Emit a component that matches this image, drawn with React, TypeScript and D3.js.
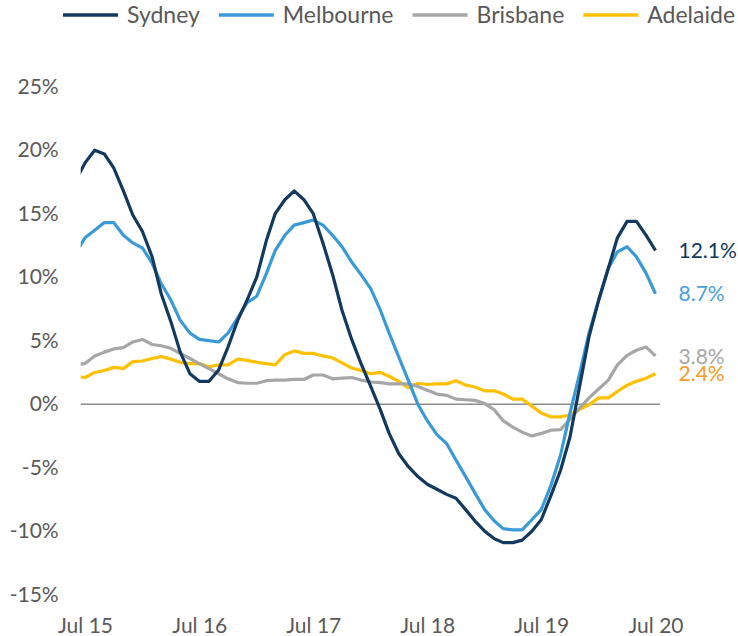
import React, { useEffect, useRef } from 'react';
import * as d3 from 'd3';

// monthly growth, Jun 15 .. Jul 20 (first point sits just outside the plot)
const seriesNames = ['Sydney', 'Melbourne', 'Brisbane', 'Adelaide'];

const sydney = [17.6, 19.0, 20.0, 19.7, 18.6, 16.8, 14.9, 13.6, 11.6, 8.7, 6.5, 4.1, 2.4, 1.8, 1.8, 2.7,
  4.5, 6.6, 8.2, 10.0, 12.9, 15.0, 16.1, 16.8, 16.1, 15.0, 12.7, 10.2, 7.4, 5.1, 3.2, 1.4,
  -0.45, -2.3, -3.9, -4.9, -5.7, -6.3, -6.7, -7.1, -7.4, -8.3, -9.2, -10.0, -10.6, -10.9, -10.9, -10.7,
  -10.0, -9.1, -7.2, -5.2, -2.6, 1.4, 5.3, 8.2, 10.7, 13.1, 14.4, 14.4, 13.3, 12.1];

const melbourne = [11.9, 13.1, 13.7, 14.3, 14.3, 13.3, 12.7, 12.3, 11.1, 9.5, 8.2, 6.6, 5.6, 5.1, 5.0, 4.9,
  5.6, 6.8, 8.0, 8.5, 10.3, 12.1, 13.3, 14.1, 14.3, 14.5, 14.1, 13.3, 12.4, 11.2, 10.2, 9.1,
  7.4, 5.6, 3.7, 1.9, 0.0, -1.3, -2.4, -3.1, -4.4, -5.7, -7.0, -8.3, -9.2, -9.8, -9.9, -9.9,
  -9.1, -8.3, -6.4, -4.0, -0.7, 2.4, 5.6, 8.2, 10.7, 12.0, 12.4, 11.6, 10.3, 8.7];

const brisbane = [3.1, 3.2, 3.8, 4.1, 4.35, 4.45, 4.9, 5.1, 4.7, 4.6, 4.4, 4.0, 3.6, 3.2, 2.8, 2.4,
  2.0, 1.7, 1.65, 1.65, 1.85, 1.9, 1.9, 1.95, 1.95, 2.3, 2.3, 2.0, 2.05, 2.1, 1.9, 1.75,
  1.7, 1.6, 1.6, 1.6, 1.4, 1.1, 0.8, 0.7, 0.4, 0.35, 0.3, 0.05, -0.45, -1.3, -1.8, -2.2,
  -2.5, -2.3, -2.05, -2.0, -1.2, -0.3, 0.5, 1.2, 1.9, 3.1, 3.85, 4.25, 4.5, 3.8];

const adelaide = [2.2, 2.1, 2.5, 2.65, 2.9, 2.8, 3.35, 3.4, 3.6, 3.75, 3.55, 3.3, 3.2, 3.2, 2.95, 3.1,
  3.1, 3.55, 3.45, 3.3, 3.2, 3.1, 3.9, 4.2, 4.0, 4.0, 3.8, 3.65, 3.25, 2.85, 2.65, 2.4,
  2.5, 2.2, 1.8, 1.3, 1.65, 1.55, 1.6, 1.6, 1.85, 1.5, 1.35, 1.05, 1.05, 0.8, 0.4, 0.4,
  -0.15, -0.7, -1.0, -1.0, -0.85, -0.4, -0.05, 0.5, 0.5, 1.0, 1.5, 1.8, 2.05, 2.4];

const yTicks = [-15, -10, -5, 0, 5, 10, 15, 20, 25];
const xTickLabels = ['Jul 15', 'Jul 16', 'Jul 17', 'Jul 18', 'Jul 19', 'Jul 20'];

const lineColors = ['#13395f', '#3a9ad8', '#a6a6a6', '#ffc000'];
const endLabelColors = ['#13395f', '#4a9fdc', '#a6a6a6', '#f59a23'];
const font = "Lato, 'Open Sans', sans-serif";

export default function App() {
  const ref = useRef<SVGSVGElement>(null);

  useEffect(() => {
    const svg = d3.select(ref.current);
    svg.selectAll('*').remove();

    const all = [sydney, melbourne, brisbane, adelaide];
    const months = d3.timeMonth.range(new Date(2015, 5, 1), new Date(2020, 7, 1));
    const julys = months.filter(m => m.getMonth() === 6);

    const left = 80.7, right = 660, top = 86.7, bottom = 594.7;

    const x = d3.scaleTime()
      .domain([julys[0], julys[julys.length - 1]])
      .range([85, 655.5]);
    const y = d3.scaleLinear().domain([-15, 25]).range([bottom, top]);

    svg.append('defs').append('clipPath').attr('id', 'plot')
      .append('rect').attr('x', left).attr('y', 0).attr('width', right - left).attr('height', 636);

    // y axis
    const yAxis = d3.axisLeft(y).tickValues(yTicks).tickSize(0).tickPadding(22)
      .tickFormat(d => d + '%');
    const gy = svg.append('g').attr('transform', `translate(${left},0)`).call(yAxis);
    gy.select('.domain').remove();
    gy.selectAll('text').attr('font-family', font).attr('font-size', 21).attr('fill', '#595959');

    // x axis
    const xAxis = d3.axisBottom(x).tickValues(julys).tickSize(0).tickPadding(23)
      .tickFormat((d, i) => xTickLabels[i]);
    const gx = svg.append('g').attr('transform', `translate(0,${bottom})`).call(xAxis);
    gx.select('.domain').remove();
    gx.selectAll('text').attr('font-family', font).attr('font-size', 21).attr('fill', '#595959');

    // zero line
    svg.append('line')
      .attr('x1', left).attr('x2', right)
      .attr('y1', y(0)).attr('y2', y(0))
      .attr('stroke', '#8c8c8c').attr('stroke-width', 1.5);

    const line = d3.line<number>()
      .x((d, i) => x(months[i]))
      .y(d => y(d));

    const plot = svg.append('g').attr('clip-path', 'url(#plot)');
    // back to front so Sydney sits on top
    [3, 2, 1, 0].forEach(k => {
      plot.append('path')
        .datum(all[k])
        .attr('d', line)
        .attr('fill', 'none')
        .attr('stroke', lineColors[k])
        .attr('stroke-width', 3.2)
        .attr('stroke-linejoin', 'round');
    });

    // end labels
    all.forEach((s, k) => {
      const last = s[s.length - 1];
      svg.append('text')
        .attr('x', x(months[months.length - 1]) + 23)
        .attr('y', y(last))
        .attr('dy', '0.36em')
        .attr('font-family', font)
        .attr('font-size', 21)
        .attr('fill', endLabelColors[k])
        .text(last.toFixed(1) + '%');
    });

    // legend
    let lx = 63;
    seriesNames.forEach((name, k) => {
      const g = svg.append('g');
      g.append('line')
        .attr('x1', lx).attr('x2', lx + 55)
        .attr('y1', 15).attr('y2', 15)
        .attr('stroke', lineColors[k]).attr('stroke-width', 3.5);
      const t = g.append('text')
        .attr('x', lx + 64).attr('y', 15).attr('dy', '0.36em')
        .attr('font-family', font).attr('font-size', 23).attr('fill', '#595959')
        .text(name);
      const w = (t.node() as SVGTextElement).getComputedTextLength();
      lx = lx + 64 + w + 19;
    });
  }, []);

  return (
    <svg ref={ref} width={738} height={636}
      style={{ display: 'block', position: 'absolute', left: 0, top: 0 }} />
  );
}
